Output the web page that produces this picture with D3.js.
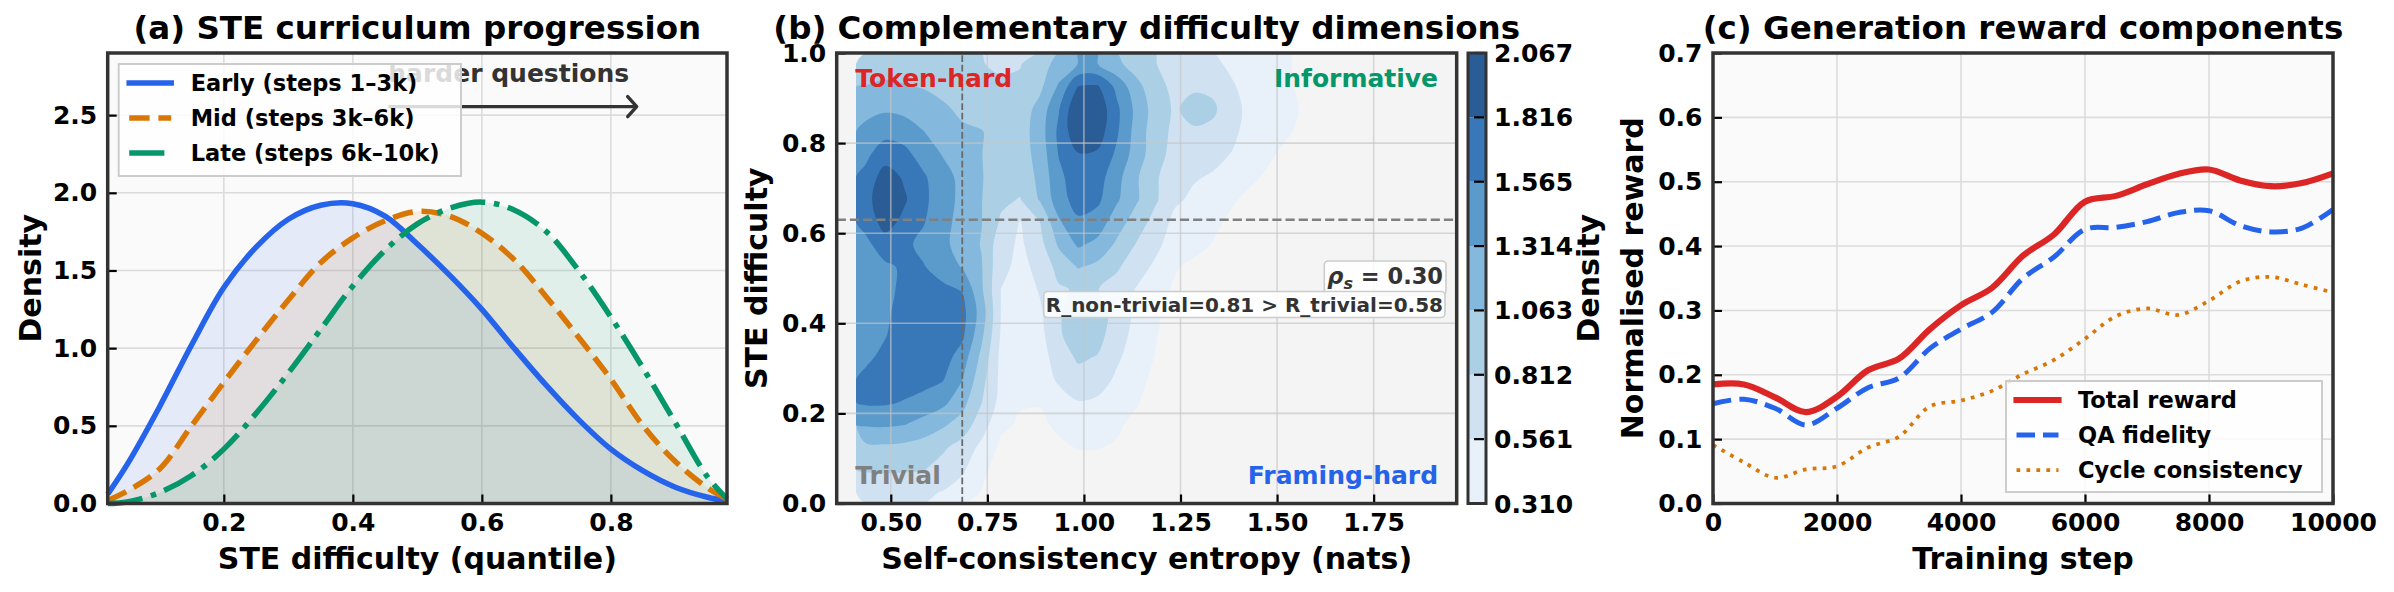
<!DOCTYPE html>
<html>
<head>
<meta charset="utf-8">
<script src="https://cdn.jsdelivr.net/npm/d3@7"></script>
<style>
  body { margin: 0; background: #ffffff; }
  text { font-family: "DejaVu Sans", sans-serif; font-weight: bold; }
</style>
</head>
<body>
<div id="chart"></div>
<script>

// ---------- (a) STE curriculum progression, densities
var steQuantile  = [0.02, 0.05, 0.10, 0.15, 0.20, 0.25, 0.30, 0.35, 0.40, 0.45, 0.50, 0.55, 0.60, 0.65, 0.70, 0.75, 0.80, 0.85, 0.90, 0.95, 0.98];
var earlyDensity = [0.06, 0.25, 0.62, 1.02, 1.39, 1.65, 1.83, 1.92, 1.93, 1.85, 1.67, 1.47, 1.25, 1.00, 0.76, 0.54, 0.35, 0.21, 0.105, 0.04, 0.015];
var midDensity   = [0.02, 0.08, 0.22, 0.50, 0.78, 1.05, 1.31, 1.55, 1.71, 1.82, 1.88, 1.85, 1.74, 1.57, 1.33, 1.07, 0.80, 0.50, 0.27, 0.10, 0.03];
var lateDensity  = [0.00, 0.01, 0.07, 0.18, 0.35, 0.58, 0.84, 1.12, 1.40, 1.63, 1.80, 1.90, 1.94, 1.89, 1.75, 1.50, 1.20, 0.87, 0.52, 0.17, 0.03];
var curriculumNames = ["Early (steps 1–3k)", "Mid (steps 3k–6k)", "Late (steps 6k–10k)"];
var curriculumXTicks = [0.2, 0.4, 0.6, 0.8];
var curriculumYTicks = [0, 0.5, 1.0, 1.5, 2.0, 2.5];
var harderArrow = { from: 0.455, to: 0.84, y: 2.555 };

// ---------- (b) KDE of STE difficulty vs self-consistency entropy
// density on a 0.05 grid, rows from STE=1.0 down to 0, columns from entropy 0.41
var gridX0 = 0.41, gridTop = 1.0, gridStep = 0.05;
var densityGrid = [
  [0.95, 0.98, 0.95, 0.92, 0.88, 0.85, 0.82, 0.78, 0.80, 0.95, 1.15, 1.32, 1.32, 1.12, 0.95, 0.82, 0.72, 0.66, 0.60, 0.52, 0.44, 0.36, 0.32, 0.20],
  [1.07, 1.10, 1.08, 1.05, 1.00, 0.92, 0.88, 0.85, 0.86, 1.00, 1.35, 1.83, 1.85, 1.50, 1.15, 0.90, 0.75, 0.78, 0.75, 0.58, 0.48, 0.40, 0.33, 0.22],
  [1.22, 1.28, 1.25, 1.18, 1.10, 1.02, 0.92, 0.88, 0.92, 1.15, 1.55, 2.06, 2.00, 1.62, 1.25, 0.95, 0.78, 0.90, 0.86, 0.62, 0.50, 0.42, 0.34, 0.27],
  [1.40, 1.50, 1.45, 1.32, 1.18, 1.10, 1.08, 0.92, 0.95, 1.18, 1.62, 2.02, 1.95, 1.60, 1.22, 0.92, 0.76, 0.78, 0.74, 0.60, 0.48, 0.40, 0.32, 0.22],
  [1.52, 1.68, 1.64, 1.45, 1.30, 1.16, 1.07, 0.92, 0.95, 1.15, 1.58, 1.80, 1.78, 1.52, 1.20, 0.92, 0.72, 0.65, 0.62, 0.55, 0.45, 0.33, 0.24, 0.15],
  [1.62, 1.95, 1.78, 1.60, 1.40, 1.25, 1.08, 0.90, 0.90, 1.12, 1.50, 1.72, 1.68, 1.40, 1.10, 0.85, 0.65, 0.58, 0.54, 0.47, 0.34, 0.27, 0.18, 0.10],
  [1.70, 2.05, 1.85, 1.62, 1.42, 1.25, 1.07, 0.86, 0.80, 1.08, 1.45, 1.68, 1.62, 1.35, 1.10, 0.85, 0.60, 0.52, 0.45, 0.33, 0.26, 0.20, 0.12, 0.05],
  [1.65, 1.92, 1.75, 1.58, 1.40, 1.22, 1.07, 0.78, 0.55, 0.80, 1.28, 1.52, 1.45, 1.18, 0.95, 0.72, 0.50, 0.42, 0.35, 0.27, 0.20, 0.12, 0.05, 0.00],
  [1.50, 1.70, 1.62, 1.50, 1.38, 1.20, 1.05, 0.66, 0.52, 0.72, 1.10, 1.35, 1.25, 1.02, 0.80, 0.62, 0.45, 0.38, 0.30, 0.22, 0.14, 0.06, 0.00, 0.00],
  [1.42, 1.52, 1.60, 1.58, 1.45, 1.30, 1.08, 0.62, 0.50, 0.62, 0.90, 1.08, 1.00, 0.85, 0.66, 0.52, 0.33, 0.26, 0.18, 0.10, 0.04, 0.00, 0.00, 0.00],
  [1.40, 1.50, 1.62, 1.66, 1.62, 1.55, 1.10, 0.56, 0.42, 0.58, 0.78, 0.84, 0.82, 0.70, 0.55, 0.40, 0.28, 0.20, 0.12, 0.05, 0.00, 0.00, 0.00, 0.00],
  [1.38, 1.52, 1.66, 1.72, 1.72, 1.65, 1.20, 0.56, 0.40, 0.52, 0.78, 0.95, 0.92, 0.72, 0.52, 0.36, 0.22, 0.12, 0.05, 0.00, 0.00, 0.00, 0.00, 0.00],
  [1.42, 1.55, 1.68, 1.74, 1.74, 1.62, 1.12, 0.54, 0.38, 0.48, 0.78, 0.95, 0.90, 0.68, 0.48, 0.33, 0.18, 0.08, 0.00, 0.00, 0.00, 0.00, 0.00, 0.00],
  [1.52, 1.62, 1.70, 1.72, 1.68, 1.45, 1.00, 0.50, 0.36, 0.45, 0.68, 0.85, 0.80, 0.60, 0.45, 0.30, 0.15, 0.05, 0.00, 0.00, 0.00, 0.00, 0.00, 0.00],
  [1.62, 1.68, 1.68, 1.65, 1.58, 1.32, 0.90, 0.50, 0.35, 0.42, 0.60, 0.72, 0.68, 0.52, 0.38, 0.26, 0.12, 0.03, 0.00, 0.00, 0.00, 0.00, 0.00, 0.00],
  [1.60, 1.60, 1.55, 1.48, 1.38, 1.15, 0.82, 0.48, 0.33, 0.32, 0.45, 0.55, 0.52, 0.42, 0.33, 0.22, 0.10, 0.00, 0.00, 0.00, 0.00, 0.00, 0.00, 0.00],
  [1.34, 1.35, 1.32, 1.22, 1.10, 0.95, 0.68, 0.36, 0.28, 0.28, 0.34, 0.38, 0.37, 0.34, 0.26, 0.15, 0.05, 0.00, 0.00, 0.00, 0.00, 0.00, 0.00, 0.00],
  [1.00, 1.02, 1.00, 0.95, 0.85, 0.72, 0.50, 0.26, 0.18, 0.22, 0.28, 0.32, 0.32, 0.29, 0.20, 0.10, 0.02, 0.00, 0.00, 0.00, 0.00, 0.00, 0.00, 0.00],
  [0.84, 0.85, 0.84, 0.82, 0.72, 0.60, 0.38, 0.18, 0.10, 0.12, 0.18, 0.22, 0.22, 0.18, 0.10, 0.04, 0.00, 0.00, 0.00, 0.00, 0.00, 0.00, 0.00, 0.00],
  [0.60, 0.62, 0.62, 0.60, 0.55, 0.45, 0.30, 0.12, 0.05, 0.05, 0.10, 0.12, 0.12, 0.10, 0.05, 0.00, 0.00, 0.00, 0.00, 0.00, 0.00, 0.00, 0.00, 0.00]
];
var densityLevels = [0.310, 0.561, 0.812, 1.063, 1.314, 1.565, 1.816, 2.067];
var entropyTicks = [0.50, 0.75, 1.00, 1.25, 1.50, 1.75];
var steTicks = [0.0, 0.2, 0.4, 0.6, 0.8, 1.0];
var entropyThreshold = 0.685, steThreshold = 0.63;
var quadrantNames = ["Token-hard", "Informative", "Trivial", "Framing-hard"];
var spearmanRho = 0.30, rNonTrivial = 0.81, rTrivial = 0.58;

// ---------- (c) generation reward components
var trainSteps       = [0, 500, 1000, 1500, 2000, 2500, 3000, 3500, 4000, 4500, 5000, 5500, 6000, 6500, 7000, 7500, 8000, 8500, 9000, 9500, 10000];
var totalReward      = [0.185, 0.185, 0.165, 0.142, 0.166, 0.207, 0.225, 0.271, 0.308, 0.335, 0.385, 0.418, 0.469, 0.478, 0.496, 0.512, 0.519, 0.502, 0.493, 0.498, 0.513];
var qaFidelity       = [0.155, 0.162, 0.148, 0.122, 0.148, 0.180, 0.195, 0.241, 0.271, 0.297, 0.350, 0.383, 0.426, 0.429, 0.438, 0.452, 0.455, 0.432, 0.422, 0.428, 0.457];
var cycleConsistency = [0.091, 0.064, 0.040, 0.053, 0.058, 0.087, 0.104, 0.151, 0.160, 0.175, 0.201, 0.223, 0.256, 0.291, 0.303, 0.293, 0.315, 0.345, 0.352, 0.340, 0.328];
var rewardNames = ["Total reward", "QA fidelity", "Cycle consistency"];
var stepTicks = [0, 2000, 4000, 6000, 8000, 10000];
var rewardTicks = [0.0, 0.1, 0.2, 0.3, 0.4, 0.5, 0.6, 0.7];


var PLOT_TOP = 53, PLOT_BOTTOM = 503.5;
var TICK_FS = 25, LABEL_FS = 30, TITLE_FS = 32.5, LEGEND_FS = 22.5;

var svg = d3.select("#chart").append("svg")
    .attr("width", 2394)
    .attr("height", 592);

function background(xs, ys, fill) {
    svg.append("rect")
        .attr("x", xs.range()[0]).attr("y", ys.range()[1])
        .attr("width", xs.range()[1] - xs.range()[0])
        .attr("height", ys.range()[0] - ys.range()[1])
        .attr("fill", fill);
}

function gridLines(xs, ys, xv, yv, stroke, opacity) {
    var g = svg.append("g")
        .attr("stroke", stroke)
        .attr("stroke-width", 1.6)
        .attr("stroke-opacity", opacity);
    g.selectAll(null).data(xv).enter().append("line")
        .attr("x1", function(d) { return xs(d); })
        .attr("x2", function(d) { return xs(d); })
        .attr("y1", ys.range()[0]).attr("y2", ys.range()[1]);
    g.selectAll(null).data(yv).enter().append("line")
        .attr("y1", function(d) { return ys(d); })
        .attr("y2", function(d) { return ys(d); })
        .attr("x1", xs.range()[0]).attr("x2", xs.range()[1]);
}

function styleAxis(sel) {
    sel.attr("font-family", "DejaVu Sans")
        .attr("font-size", TICK_FS)
        .attr("font-weight", "bold");
    sel.select(".domain").remove();
    sel.selectAll(".tick line").attr("stroke", "#000").attr("stroke-width", 2.2);
    sel.selectAll(".tick text").attr("fill", "#000");
}

function axes(xs, ys, xv, yv, xf, yf) {
    svg.append("g")
        .attr("transform", "translate(0," + ys.range()[0] + ")")
        .call(d3.axisBottom(xs).tickValues(xv).tickFormat(xf).tickSize(-9).tickPadding(9.5))
        .call(styleAxis);
    svg.append("g")
        .attr("transform", "translate(" + xs.range()[0] + ",0)")
        .call(d3.axisLeft(ys).tickValues(yv).tickFormat(yf).tickSize(-9).tickPadding(10.5))
        .call(styleAxis);
}

function frame(xs, ys) {
    svg.append("rect")
        .attr("x", xs.range()[0]).attr("y", ys.range()[1])
        .attr("width", xs.range()[1] - xs.range()[0])
        .attr("height", ys.range()[0] - ys.range()[1])
        .attr("fill", "none")
        .attr("stroke", "#333")
        .attr("stroke-width", 3.5);
}

function labels(xs, ys, title, xlab, ylab, ylabX) {
    var cx = (xs.range()[0] + xs.range()[1]) / 2;
    var cy = (ys.range()[0] + ys.range()[1]) / 2;
    svg.append("text").attr("x", cx).attr("y", 39)
        .attr("text-anchor", "middle").attr("font-size", TITLE_FS).text(title);
    svg.append("text").attr("x", cx).attr("y", 569)
        .attr("text-anchor", "middle").attr("font-size", LABEL_FS).text(xlab);
    svg.append("text")
        .attr("transform", "translate(" + ylabX + "," + cy + ") rotate(-90)")
        .attr("text-anchor", "middle").attr("font-size", LABEL_FS).text(ylab);
}

function legend(x, y, w, h, rows, rowGap, items) {
    var g = svg.append("g");
    g.append("rect").attr("x", x).attr("y", y).attr("width", w).attr("height", h)
        .attr("fill", "#ffffff").attr("fill-opacity", 0.82)
        .attr("stroke", "#cccccc").attr("stroke-width", 2);
    items.forEach(function(it, i) {
        var ry = y + rows + i * rowGap;
        g.append("line")
            .attr("x1", x + 10.5).attr("x2", x + 52.5)
            .attr("y1", ry).attr("y2", ry)
            .attr("stroke", it.color).attr("stroke-width", it.width)
            .attr("stroke-dasharray", it.dash)
            .attr("stroke-linecap", it.dash ? "butt" : "square");
        g.append("text").attr("x", x + 72).attr("y", ry).attr("dy", "0.36em")
            .attr("font-size", LEGEND_FS).text(it.name);
    });
}


// ================= (a) =================
var xA = d3.scaleLinear().domain([0.02, 0.98]).range([107.7, 727]);
var yA = d3.scaleLinear().domain([0, 2.9]).range([PLOT_BOTTOM, PLOT_TOP]);

var curriculum = [
    { name: curriculumNames[0], values: earlyDensity, color: "#2563eb", dash: null },
    { name: curriculumNames[1], values: midDensity,   color: "#d97706", dash: "20.4,8.8" },
    { name: curriculumNames[2], values: lateDensity,  color: "#059669", dash: "35.2,8.8,5.5,8.8" }
];

background(xA, yA, "#fafafa");
gridLines(xA, yA, curriculumXTicks, curriculumYTicks.slice(1), "#dcdcdc", 1);

var areaA = d3.area()
    .x(function(d, i) { return xA(steQuantile[i]); })
    .y0(yA(0))
    .y1(function(d) { return yA(d); })
    .curve(d3.curveCatmullRom.alpha(0.5));
var lineA = d3.line()
    .x(function(d, i) { return xA(steQuantile[i]); })
    .y(function(d) { return yA(d); })
    .curve(d3.curveCatmullRom.alpha(0.5));

svg.append("g").selectAll("path").data(curriculum).enter().append("path")
    .attr("d", function(s) { return areaA(s.values); })
    .attr("fill", function(s) { return s.color; })
    .attr("fill-opacity", 0.1);
svg.append("g").selectAll("path").data(curriculum).enter().append("path")
    .attr("d", function(s) { return lineA(s.values); })
    .attr("fill", "none")
    .attr("stroke", function(s) { return s.color; })
    .attr("stroke-width", 5.5)
    .attr("stroke-dasharray", function(s) { return s.dash; });

// "harder questions" arrow
var ay = yA(harderArrow.y), ax1 = xA(harderArrow.to);
svg.append("text").attr("x", xA(harderArrow.from)).attr("y", ay - 25)
    .attr("font-size", TICK_FS).attr("fill", "#333").text("harder questions");
svg.append("line")
    .attr("x1", xA(harderArrow.from)).attr("x2", ax1 - 1)
    .attr("y1", ay).attr("y2", ay)
    .attr("stroke", "#333").attr("stroke-width", 3.4);
svg.append("polyline")
    .attr("points", (ax1 - 9) + "," + (ay - 10) + " " + ax1 + "," + ay + " " + (ax1 - 9) + "," + (ay + 10))
    .attr("fill", "none").attr("stroke", "#333").attr("stroke-width", 3.4)
    .attr("stroke-linecap", "round").attr("stroke-linejoin", "round");

legend(118.7, 64, 342.3, 112, 19, 35, curriculum.map(function(s) {
    return { name: s.name, color: s.color, width: 5.5, dash: s.dash };
}));

axes(xA, yA, curriculumXTicks, curriculumYTicks, d3.format(".1f"), d3.format(".1f"));
frame(xA, yA);
labels(xA, yA, "(a) STE curriculum progression", "STE difficulty (quantile)", "Density", 41);


// ================= (b) =================
var xB = d3.scaleLinear().domain([0.36, 1.965]).range([836.7, 1456.7]);
var yB = d3.scaleLinear().domain([0, 1]).range([PLOT_BOTTOM, PLOT_TOP]);
var bandColors = ["#e8f1fa", "#d0e2f2", "#abd0e6", "#84b8dc", "#5a9bcc", "#3878b8", "#2a5d96"];

background(xB, yB, "#f4f4f4");

var nRows = densityGrid.length, nCols = densityGrid[0].length;
svg.append("clipPath").attr("id", "kdeClip")
    .append("rect")
    .attr("x", xB(gridX0)).attr("y", yB(gridTop))
    .attr("width", xB(gridX0 + nCols * gridStep) - xB(gridX0))
    .attr("height", yB(gridTop - nRows * gridStep) - yB(gridTop));

var bands = d3.contours()
    .size([nCols, nRows])
    .thresholds(densityLevels.slice(0, -1))(densityGrid.flat());

var ringLine = d3.line()
    .x(function(p) { return xB(gridX0 + p[0] * gridStep); })
    .y(function(p) { return yB(gridTop - p[1] * gridStep); })
    .curve(d3.curveCatmullRomClosed.alpha(0.5));

svg.append("g").attr("clip-path", "url(#kdeClip)")
    .selectAll("path").data(bands).enter().append("path")
    .attr("d", function(c) {
        return c.coordinates.map(function(poly) {
            return poly.map(function(ring) { return ringLine(ring.slice(0, -1)); }).join("");
        }).join("");
    })
    .attr("fill", function(c, i) { return bandColors[i]; });

gridLines(xB, yB, entropyTicks, steTicks.slice(1, -1), "#c4c4c4", 0.65);

// thresholds
svg.append("line")
    .attr("x1", xB(entropyThreshold)).attr("x2", xB(entropyThreshold))
    .attr("y1", yB(0)).attr("y2", yB(1))
    .attr("stroke", "#6a6a6a").attr("stroke-width", 1.8).attr("stroke-dasharray", "6.7,2.9");
svg.append("line")
    .attr("x1", xB.range()[0]).attr("x2", xB.range()[1])
    .attr("y1", yB(steThreshold)).attr("y2", yB(steThreshold))
    .attr("stroke", "#808080").attr("stroke-width", 2.4).attr("stroke-dasharray", "9.2,4");

// quadrant names
var qx0 = xB.range()[0] + 18.6, qx1 = xB.range()[1] - 18.6;
var quadrant = [
    { t: quadrantNames[0], x: qx0, y: 86.5, a: "start", c: "#dc2626" },
    { t: quadrantNames[1], x: qx1, y: 86.5, a: "end",   c: "#059669" },
    { t: quadrantNames[2], x: qx0, y: 484,  a: "start", c: "#808080" },
    { t: quadrantNames[3], x: qx1, y: 484,  a: "end",   c: "#2563eb" }
];
svg.append("g").selectAll("text").data(quadrant).enter().append("text")
    .attr("x", function(d) { return d.x; })
    .attr("y", function(d) { return d.y; })
    .attr("text-anchor", function(d) { return d.a; })
    .attr("fill", function(d) { return d.c; })
    .attr("font-size", TICK_FS)
    .text(function(d) { return d.t; });

// correlation boxes
function boxedText(build, pad) {
    var g = svg.append("g");
    var t = build(g);
    var b = t.node().getBBox();
    g.insert("rect", "text")
        .attr("x", b.x - pad).attr("y", b.y - pad + 1)
        .attr("width", b.width + 2 * pad).attr("height", b.height + 2 * pad - 2)
        .attr("rx", 4)
        .attr("fill", "#ffffff").attr("fill-opacity", 0.85)
        .attr("stroke", "#cccccc").attr("stroke-width", 1.6);
}
boxedText(function(g) {
    var t = g.append("text").attr("x", 1443).attr("y", 284)
        .attr("text-anchor", "end").attr("font-size", LEGEND_FS).attr("fill", "#333");
    t.append("tspan").attr("font-style", "italic").text("ρ");
    t.append("tspan").attr("font-style", "italic").attr("font-size", 16).attr("dy", 5).text("s");
    t.append("tspan").attr("dy", -5).text(" = " + d3.format(".2f")(spearmanRho));
    return t;
}, 3);
boxedText(function(g) {
    return g.append("text").attr("x", 1443).attr("y", 311.5)
        .attr("text-anchor", "end").attr("font-size", 20).attr("fill", "#333")
        .text("R_non-trivial=" + d3.format(".2f")(rNonTrivial) + " > R_trivial=" + d3.format(".2f")(rTrivial));
}, 2);

axes(xB, yB, entropyTicks, steTicks, d3.format(".2f"), d3.format(".1f"));
frame(xB, yB);
labels(xB, yB, "(b) Complementary difficulty dimensions", "Self-consistency entropy (nats)", "STE difficulty", 767);

// colorbar
var yCb = d3.scaleLinear().domain([densityLevels[0], densityLevels[densityLevels.length - 1]]).range([PLOT_BOTTOM, PLOT_TOP]);
var cbX = 1468, cbW = 18;
svg.append("g").selectAll("rect").data(bandColors).enter().append("rect")
    .attr("x", cbX).attr("width", cbW)
    .attr("y", function(d, i) { return yCb(densityLevels[i + 1]); })
    .attr("height", function(d, i) { return yCb(densityLevels[i]) - yCb(densityLevels[i + 1]); })
    .attr("fill", function(d) { return d; });
svg.append("g").selectAll("line").data(densityLevels).enter().append("line")
    .attr("x1", cbX + 6).attr("x2", cbX + cbW - 2)
    .attr("y1", function(d) { return yCb(d); })
    .attr("y2", function(d) { return yCb(d); })
    .attr("stroke", "#000").attr("stroke-width", 2.2);
svg.append("rect").attr("x", cbX).attr("y", PLOT_TOP).attr("width", cbW).attr("height", PLOT_BOTTOM - PLOT_TOP)
    .attr("fill", "none").attr("stroke", "#333").attr("stroke-width", 3);
svg.append("g").selectAll("text").data(densityLevels).enter().append("text")
    .attr("x", 1494)
    .attr("y", function(d) { return yCb(d); })
    .attr("dy", "0.36em")
    .attr("font-size", TICK_FS)
    .text(d3.format(".3f"));
svg.append("text")
    .attr("transform", "translate(1599," + ((PLOT_TOP + PLOT_BOTTOM) / 2) + ") rotate(-90)")
    .attr("text-anchor", "middle").attr("font-size", LABEL_FS).text("Density");


// ================= (c) =================
var xC = d3.scaleLinear().domain([0, 10000]).range([1713, 2333]);
var yC = d3.scaleLinear().domain([0, 0.7]).range([PLOT_BOTTOM, PLOT_TOP]);

var rewards = [
    { name: rewardNames[0], values: totalReward,      color: "#dc2626", width: 6.2,  dash: null },
    { name: rewardNames[1], values: qaFidelity,       color: "#2563eb", width: 5,    dash: "18.5,8" },
    { name: rewardNames[2], values: cycleConsistency, color: "#d97706", width: 3.75, dash: "3.75,6.2" }
];

background(xC, yC, "#fafafa");
gridLines(xC, yC, stepTicks.slice(1, -1), rewardTicks.slice(1, -1), "#dcdcdc", 1);

var lineC = d3.line()
    .x(function(d, i) { return xC(trainSteps[i]); })
    .y(function(d) { return yC(d); })
    .curve(d3.curveCatmullRom.alpha(0.5));

svg.append("g").selectAll("path").data(rewards).enter().append("path")
    .attr("d", function(s) { return lineC(s.values); })
    .attr("fill", "none")
    .attr("stroke", function(s) { return s.color; })
    .attr("stroke-width", function(s) { return s.width; })
    .attr("stroke-dasharray", function(s) { return s.dash; });

legend(2006, 381, 316, 111, 19, 35, rewards);

axes(xC, yC, stepTicks, rewardTicks, d3.format("d"), d3.format(".1f"));
frame(xC, yC);
labels(xC, yC, "(c) Generation reward components", "Training step", "Normalised reward", 1643);

</script>
</body>
</html>
